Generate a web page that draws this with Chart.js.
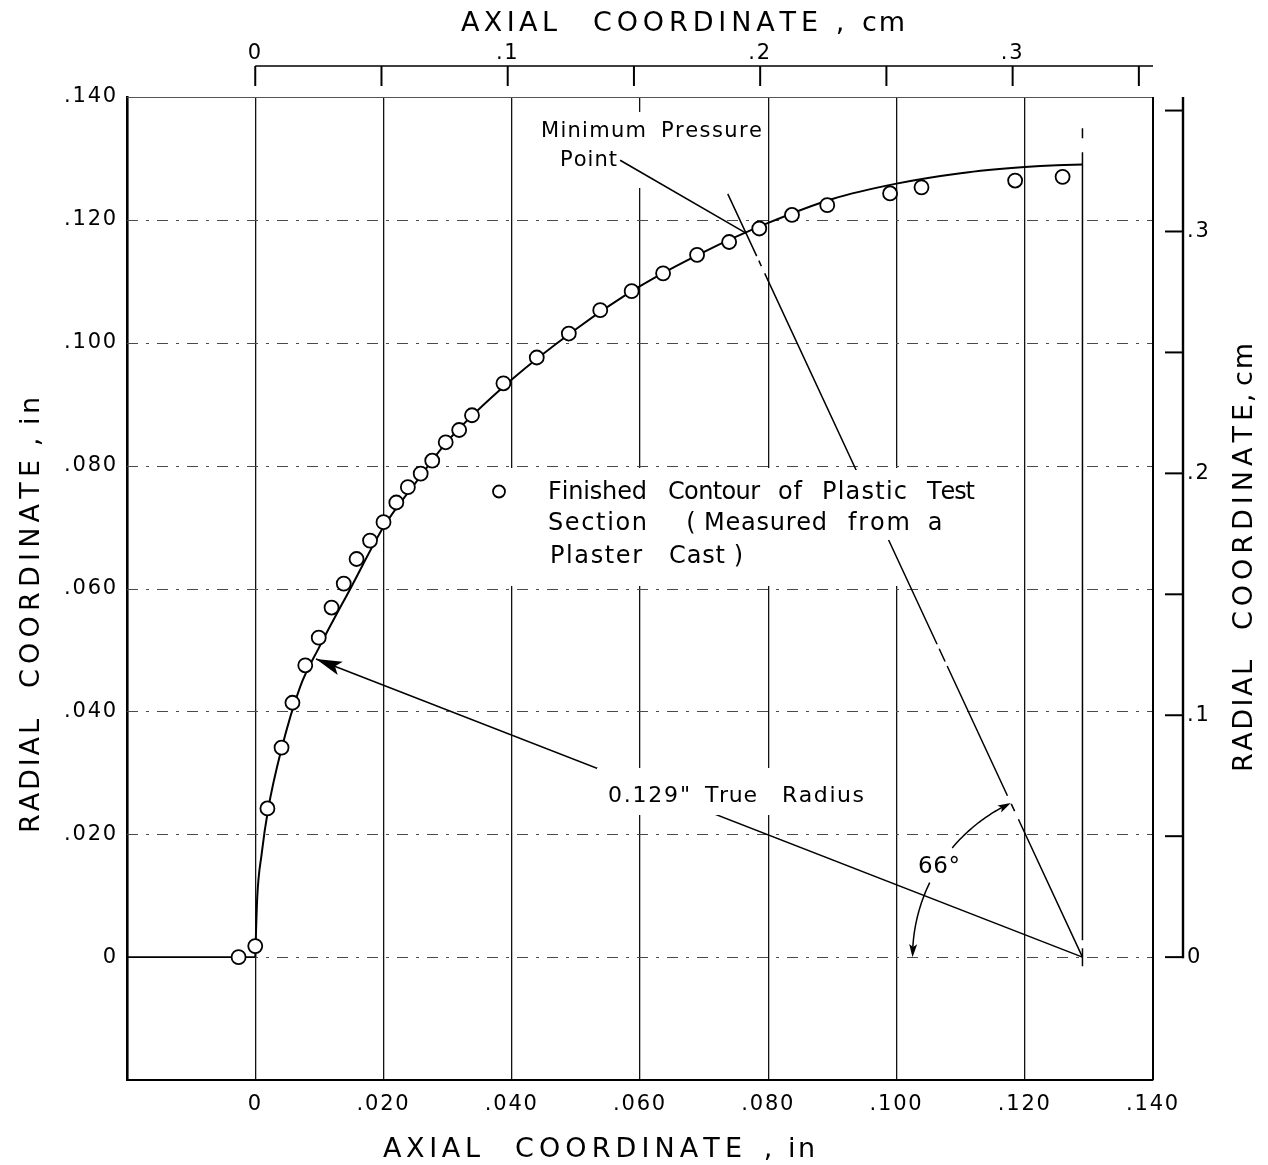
<!DOCTYPE html>
<html>
<head>
<meta charset="utf-8">
<title>Radial vs axial coordinate of nozzle throat contour</title>
<script src="https://cdn.jsdelivr.net/npm/chart.js@4.4.1/dist/chart.umd.min.js"></script>
<style>
  html, body { margin: 0; padding: 0; background: #fff; }
  #wrap { position: relative; width: 1268px; height: 1165px; }
</style>
</head>
<body>
<div id="wrap"><canvas id="chart"></canvas></div>
<script>
// Measured contour of the plastic test section (inches)
const contourX = [-0.0026, 0.0000, 0.0019, 0.0041, 0.0058, 0.0078, 0.0099, 0.0119, 0.0138, 0.0158,
                  0.0179, 0.0200, 0.0220, 0.0238, 0.0258, 0.0276, 0.0297, 0.0318, 0.0338, 0.0387,
                  0.0439, 0.0489, 0.0538, 0.0587, 0.0636, 0.0689, 0.0739, 0.0786, 0.0837, 0.0892,
                  0.0990, 0.1039, 0.1185, 0.1259];
const contourY = [0.0000, 0.0018, 0.0242, 0.0341, 0.0414, 0.0475, 0.0520, 0.0569, 0.0608, 0.0648,
                  0.0678, 0.0708, 0.0740, 0.0765, 0.0787, 0.0808, 0.0838, 0.0858, 0.0882, 0.0934,
                  0.0976, 0.1015, 0.1053, 0.1084, 0.1113, 0.1143, 0.1164, 0.1186, 0.1208, 0.1224,
                  0.1243, 0.1253, 0.1264, 0.1270];

// Faired design contour (0.129 in true radius)
const arcX = [0, 0.0003, 0.001, 0.002, 0.004, 0.007, 0.010, 0.015, 0.020, 0.025, 0.030,
              0.040, 0.050, 0.060, 0.070, 0.080, 0.090, 0.100, 0.110, 0.120, 0.125, 0.129];
const arcY = [0, 0.0095, 0.0168, 0.0240, 0.0335, 0.0440, 0.0505, 0.0603, 0.0700, 0.0772, 0.0840,
              0.0940, 0.1022, 0.1092, 0.1148, 0.1195, 0.1234, 0.1259, 0.1276, 0.1286, 0.1289, 0.1290];

// Straight wall upstream of the throat
const wallX = [-0.020, 0.000];
const wallY = [0, 0];

// Axis ticks
const xTickValues = [0, 0.02, 0.04, 0.06, 0.08, 0.10, 0.12, 0.14];
const xTickLabels = ['0', '.020', '.040', '.060', '.080', '.100', '.120', '.140'];
const yTickValues = [0, 0.02, 0.04, 0.06, 0.08, 0.10, 0.12, 0.14];
const yTickLabels = ['0', '.020', '.040', '.060', '.080', '.100', '.120', '.140'];
const cmTickValues = [0, 0.05, 0.10, 0.15, 0.20, 0.25, 0.30, 0.35];
const cmTickLabels = ['0', '', '.1', '', '.2', '', '.3', ''];

const IN_MIN = -0.020, IN_MAX = 0.140;
const CM_PER_IN = 2.54;
const TRUE_RADIUS = 0.129;        // in
const MIN_PRESSURE_ANGLE = 66;    // deg
const RADIUS_ARROW_ANGLE = 22.1;  // deg above the axis, toward the label
const RADIAL_LINE_LEN = 0.136;    // in
const CENTERLINE_TOP = 0.1349;    // in
const ANGLE_ARC_R = 0.0265;       // in
const POINT_LABEL_AT = [0.0569, 0.1297];

const FONT = '"DejaVu Sans", "Liberation Sans", sans-serif';

function seg(ctx, x0, y0, x1, y1) {
  ctx.beginPath(); ctx.moveTo(x0, y0); ctx.lineTo(x1, y1); ctx.stroke();
}

// Spread the glyphs of a word evenly between x0 and x1 on baseline y
function spaced(ctx, text, x0, x1, y) {
  const chars = Array.from(text);
  const w = chars.map(c => ctx.measureText(c).width);
  const total = w.reduce((s, v) => s + v, 0);
  if (chars.length === 1) { ctx.fillText(text, (x0 + x1) / 2 - total / 2, y); return; }
  const gap = ((x1 - x0) - total) / (chars.length - 1);
  let x = x0;
  chars.forEach((c, i) => { ctx.fillText(c, x, y); x += w[i] + gap; });
}
function words(ctx, list, y) { list.forEach(([t, a, b]) => spaced(ctx, t, a, b, y)); }

function arrowHead(ctx, tx, ty, fx, fy, len, half) {
  const ang = Math.atan2(ty - fy, tx - fx);
  const c = Math.cos(ang), s = Math.sin(ang);
  const bx = tx - len * c, by = ty - len * s;
  ctx.beginPath();
  ctx.moveTo(tx, ty);
  ctx.lineTo(bx - s * half, by + c * half);
  ctx.lineTo(tx - len * 0.78 * c, ty - len * 0.78 * s);
  ctx.lineTo(bx + s * half, by - c * half);
  ctx.closePath();
  ctx.fill();
}

function noSpacing(ctx) { if ('letterSpacing' in ctx) ctx.letterSpacing = '0px'; }

const overlay = {
  id: 'overlay',
  beforeDraw(chart) {
    // wide, drafting-style tick lettering
    if ('letterSpacing' in chart.ctx) chart.ctx.letterSpacing = '1.8px';
  },
  beforeDatasetsDraw(chart) {
    const { ctx, chartArea: a, scales: { x, y } } = chart;
    const P = (dx, dy) => [x.getPixelForValue(dx), y.getPixelForValue(dy)];
    ctx.save();
    noSpacing(ctx);

    // horizontal grid (broken dash-dot)
    ctx.strokeStyle = '#4a4a4a'; ctx.lineWidth = 1; ctx.setLineDash([11, 8, 3, 8]);
    yTickValues.forEach(v => {
      if (v >= y.max) return;
      const py = Math.round(y.getPixelForValue(v)) + 0.5;
      seg(ctx, a.left, py, a.right, py);
    });
    ctx.setLineDash([]);

    // clear space for the legend and the minimum-pressure note
    ctx.fillStyle = '#fff';
    ctx.fillRect(488, 468, 505, 118);
    ctx.fillRect(536, 112, 229, 76);

    const [cx, cy] = P(TRUE_RADIUS, 0);
    const th = MIN_PRESSURE_ANGLE * Math.PI / 180;
    const [ex, ey] = P(TRUE_RADIUS - RADIAL_LINE_LEN * Math.cos(th), RADIAL_LINE_LEN * Math.sin(th));
    ctx.strokeStyle = '#000';

    // radial line through the minimum pressure point (center line style)
    ctx.lineWidth = 1.5;
    ctx.setLineDash([152, 9, 8, 9, 143, 5, 14, 5, 409, 8, 6, 5, 90]);
    seg(ctx, cx, cy, ex, ey);

    // vertical center line of the throat radius
    const topY = y.getPixelForValue(CENTERLINE_TOP);
    ctx.setLineDash([10, 14, 788, 8, 40]);
    seg(ctx, cx, topY, cx, cy + 9);
    ctx.setLineDash([]);

    // true-radius line from the centre to the contour
    const ph = RADIUS_ARROW_ANGLE * Math.PI / 180;
    const [tx, ty] = P(TRUE_RADIUS - TRUE_RADIUS * Math.cos(ph), TRUE_RADIUS * Math.sin(ph));
    ctx.lineWidth = 1.6;
    seg(ctx, cx, cy, tx, ty);

    // leader from "Point" to the contour
    const [mx, my] = P(TRUE_RADIUS - TRUE_RADIUS * Math.cos(th), TRUE_RADIUS * Math.sin(th));
    const [lx, ly] = P(POINT_LABEL_AT[0], POINT_LABEL_AT[1]);
    seg(ctx, lx, ly, mx, my);

    // text backgrounds
    ctx.fillStyle = '#fff';
    ctx.fillRect(597, 768, 275, 47);
    ctx.fillRect(540, 470, 445, 36);
    ctx.fillRect(540, 506, 410, 34);
    ctx.restore();
  },
  afterDatasetsDraw(chart) {
    const { ctx, scales: { x, y } } = chart;
    const P = (dx, dy) => [x.getPixelForValue(dx), y.getPixelForValue(dy)];
    ctx.save();
    noSpacing(ctx);
    ctx.fillStyle = '#000'; ctx.strokeStyle = '#000';

    const [cx, cy] = P(TRUE_RADIUS, 0);
    // arrowhead on the true-radius line
    const ph = RADIUS_ARROW_ANGLE * Math.PI / 180;
    const [tx, ty] = P(TRUE_RADIUS - TRUE_RADIUS * Math.cos(ph), TRUE_RADIUS * Math.sin(ph));
    arrowHead(ctx, tx, ty, cx, cy, 26, 7);

    // 66 degree dimension arc
    const th = MIN_PRESSURE_ANGLE * Math.PI / 180;
    const [ex, ey] = P(TRUE_RADIUS - RADIAL_LINE_LEN * Math.cos(th), RADIAL_LINE_LEN * Math.sin(th));
    const beta = Math.atan2(cy - ey, cx - ex);
    const R = cx - x.getPixelForValue(TRUE_RADIUS - ANGLE_ARC_R);
    const pt = b => [cx - R * Math.cos(b), cy - R * Math.sin(b)];
    const arcPart = (b0, b1) => {
      ctx.beginPath();
      for (let k = 0; k <= 30; k++) {
        const [px, py] = pt(b0 + (b1 - b0) * k / 30);
        if (k === 0) ctx.moveTo(px, py); else ctx.lineTo(px, py);
      }
      ctx.stroke();
    };
    ctx.lineWidth = 1.5;
    arcPart(0.02, 26 * Math.PI / 180);
    arcPart(40 * Math.PI / 180, beta - 0.02);
    let [ax, ay] = pt(0), [bx, by] = pt(0.1);
    arrowHead(ctx, ax, ay, bx, by, 13, 4);
    [ax, ay] = pt(beta); [bx, by] = pt(beta - 0.1);
    arrowHead(ctx, ax, ay, bx, by, 13, 4);

    // annotation text
    ctx.textBaseline = 'alphabetic';
    ctx.font = `21px ${FONT}`;
    words(ctx, [['Minimum', 541, 646], ['Pressure', 661, 762]], 137);
    words(ctx, [['Point', 560, 617]], 166);

    ctx.font = `22px ${FONT}`;
    words(ctx, [['0.129"', 608, 690], ['True', 705, 757], ['Radius', 782, 864]], 802);

    ctx.font = `23px ${FONT}`;
    words(ctx, [['66°', 918, 960]], 873);

    // legend
    ctx.font = `24px ${FONT}`;
    words(ctx, [['Finished', 548, 647], ['Contour', 668, 760], ['of', 778, 802],
                ['Plastic', 822, 907], ['Test', 927, 975]], 499);
    words(ctx, [['Section', 548, 647], ['(', 688, 694], ['Measured', 704, 827],
                ['from', 848, 910], ['a', 928, 942]], 530);
    words(ctx, [['Plaster', 550, 642], ['Cast', 669, 725], [')', 735, 742]], 563);
    ctx.fillStyle = '#fff'; ctx.lineWidth = 1.8;
    ctx.beginPath(); ctx.arc(499, 491.5, 6, 0, Math.PI * 2); ctx.fill(); ctx.stroke();
    ctx.restore();
  },
  afterDraw(chart) {
    const { ctx, chartArea: a, scales: { x2, y2 } } = chart;
    ctx.save();
    noSpacing(ctx);
    ctx.strokeStyle = '#000'; ctx.fillStyle = '#000';

    // frame: top and right edges
    ctx.lineWidth = 1; ctx.strokeStyle = '#555';
    seg(ctx, a.left, a.top + 0.5, a.right, a.top + 0.5);
    ctx.strokeStyle = '#000'; ctx.lineWidth = 2;
    seg(ctx, a.right, a.top, a.right, a.bottom);

    // axial coordinate in cm (top)
    const topLine = 66;
    ctx.lineWidth = 1.6;
    seg(ctx, x2.getPixelForValue(0), topLine, a.right, topLine);
    ctx.lineWidth = 2;
    cmTickValues.forEach(v => {
      const px = x2.getPixelForValue(v);
      seg(ctx, px, topLine, px, topLine + 20);
    });

    // radial coordinate in cm (right)
    const rightLine = 1183;
    ctx.lineWidth = 2.4;
    seg(ctx, rightLine, a.top, rightLine, y2.getPixelForValue(0) + 1);
    ctx.lineWidth = 2;
    cmTickValues.forEach(v => {
      const py = y2.getPixelForValue(v);
      seg(ctx, rightLine - 18, py, rightLine, py);
    });

    // axis titles
    ctx.font = `27px ${FONT}`;
    ctx.textBaseline = 'alphabetic';
    words(ctx, [['AXIAL', 461, 557], ['COORDINATE', 593, 818], [',', 836, 844], ['cm', 862, 905]], 31);
    words(ctx, [['AXIAL', 383, 480], ['COORDINATE', 515, 742], [',', 764, 772], ['in', 788, 815]], 1157);

    ctx.save();
    ctx.translate(39, 0); ctx.rotate(-Math.PI / 2);
    words(ctx, [['RADIAL', -833, -719], ['COORDINATE', -688, -460], [',', -446, -438], ['in', -425, -397]], 0);
    ctx.restore();

    ctx.save();
    ctx.translate(1252, 0); ctx.rotate(-Math.PI / 2);
    words(ctx, [['RADIAL', -772, -660], ['COORDINATE', -630, -404], [',', -402, -394], ['cm', -386, -343]], 0);
    ctx.restore();

    ctx.restore();
  }
};

const pts = (xs, ys) => xs.map((v, i) => ({ x: v, y: ys[i] }));
const tickFont = { family: FONT, size: 21 };

new Chart(document.getElementById('chart'), {
  type: 'scatter',
  data: {
    datasets: [
      {
        label: 'Finished Contour of Plastic Test Section (Measured from a Plaster Cast)',
        data: pts(contourX, contourY),
        showLine: false,
        pointRadius: 7,
        pointBorderWidth: 1.8,
        pointBackgroundColor: '#fff',
        pointBorderColor: '#000',
        order: 0
      },
      {
        label: '0.129" True Radius',
        data: pts(arcX, arcY),
        showLine: true,
        borderColor: '#000',
        borderWidth: 2,
        pointRadius: 0,
        cubicInterpolationMode: 'monotone',
        order: 1
      },
      {
        label: 'Upstream wall',
        data: pts(wallX, wallY),
        showLine: true,
        borderColor: '#000',
        borderWidth: 1.8,
        pointRadius: 0,
        order: 1
      }
    ]
  },
  options: {
    responsive: true,
    maintainAspectRatio: false,
    animation: false,
    events: [],
    layout: { padding: 0 },
    plugins: { legend: { display: false }, tooltip: { enabled: false } },
    scales: {
      x: {
        type: 'linear', position: 'bottom', min: IN_MIN, max: IN_MAX,
        afterBuildTicks: s => { s.ticks = xTickValues.map(v => ({ value: v })); },
        afterFit: s => { s.height = 85; },
        ticks: {
          font: tickFont, color: '#000', padding: 12, autoSkip: false, maxRotation: 0,
          callback: v => xTickLabels[xTickValues.indexOf(v)]
        },
        grid: { color: '#111', lineWidth: 1.3, drawTicks: false },
        border: { display: true, color: '#000', width: 2 }
      },
      y: {
        type: 'linear', position: 'left', min: IN_MIN, max: IN_MAX,
        afterBuildTicks: s => { s.ticks = yTickValues.map(v => ({ value: v })); },
        afterFit: s => { s.width = 127; },
        ticks: {
          font: tickFont, color: '#000', padding: 9, autoSkip: false,
          callback: v => yTickLabels[yTickValues.indexOf(v)]
        },
        grid: { drawOnChartArea: false, drawTicks: false },
        border: { display: true, color: '#000', width: 2.6 }
      },
      x2: {
        type: 'linear', position: 'top', min: IN_MIN * CM_PER_IN, max: IN_MAX * CM_PER_IN,
        afterBuildTicks: s => { s.ticks = cmTickValues.map(v => ({ value: v })); },
        afterFit: s => { s.height = 97; },
        ticks: {
          font: tickFont, color: '#000', padding: 31, autoSkip: false, maxRotation: 0,
          callback: v => cmTickLabels[cmTickValues.indexOf(v)]
        },
        grid: { drawOnChartArea: false, drawTicks: false },
        border: { display: false }
      },
      y2: {
        type: 'linear', position: 'right', min: IN_MIN * CM_PER_IN, max: IN_MAX * CM_PER_IN,
        afterBuildTicks: s => { s.ticks = cmTickValues.map(v => ({ value: v })); },
        afterFit: s => { s.width = 115; },
        ticks: {
          font: tickFont, color: '#000', padding: 34, autoSkip: false,
          callback: v => cmTickLabels[cmTickValues.indexOf(v)]
        },
        grid: { drawOnChartArea: false, drawTicks: false },
        border: { display: false }
      }
    }
  },
  plugins: [overlay]
});
</script>
</body>
</html>
